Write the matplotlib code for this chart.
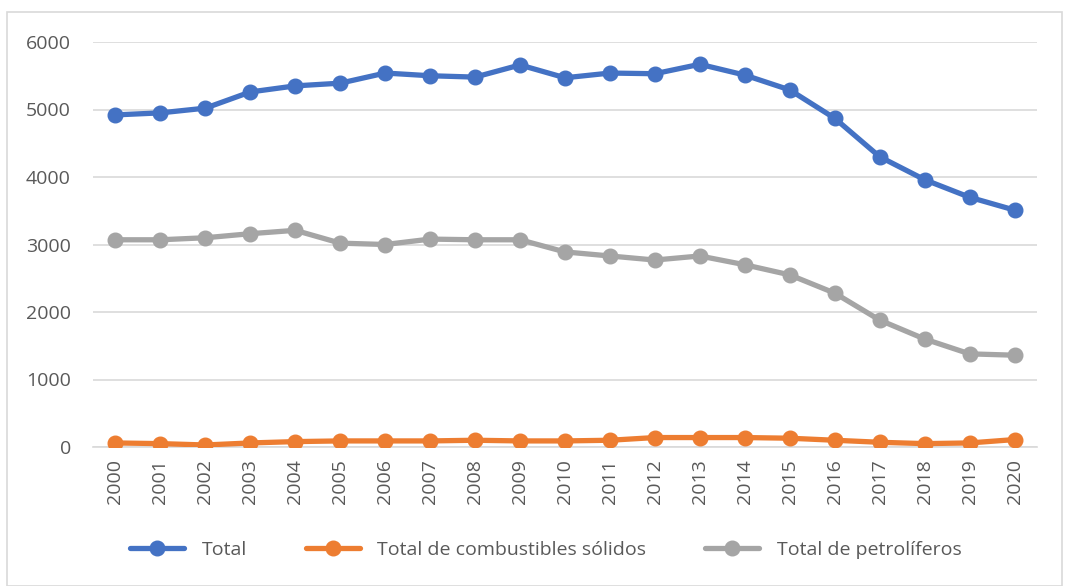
import matplotlib.pyplot as plt
from matplotlib.patches import Rectangle

# Consumo anual por tipo de combustible, 2000-2020
years = [str(y) for y in range(2000, 2021)]
total = [4920, 4950, 5020, 5260, 5350, 5390, 5540, 5500, 5480, 5660, 5470,
         5540, 5530, 5670, 5510, 5290, 4870, 4300, 3960, 3700, 3510]
solidos = [60, 50, 30, 60, 80, 90, 90, 90, 100, 90, 90,
           100, 140, 140, 140, 130, 100, 70, 50, 60, 110]
petroliferos = [3070, 3070, 3100, 3160, 3210, 3020, 3000, 3080, 3070, 3070, 2890,
                2830, 2770, 2830, 2700, 2550, 2280, 1880, 1600, 1380, 1360]

series = [
    ("Total", total, "#4472C4"),
    ("Total de combustibles sólidos", solidos, "#ED7D31"),
    ("Total de petrolíferos", petroliferos, "#A5A5A5"),
]

plt.rcParams['font.family'] = ['Open Sans', 'DejaVu Sans']
text_color = "#595959"
fs = 14

fig = plt.figure(figsize=(10.68, 5.86), dpi=100)
ax = fig.add_axes([93 / 1068, 1 - 447 / 586, (1037 - 93) / 1068, (447 - 42) / 586])

# chart area border
fig.patches.append(Rectangle((7 / 1068, 0), (1062 - 7) / 1068, 1 - 12 / 586,
                             transform=fig.transFigure, fill=False,
                             edgecolor="#D9D9D9", linewidth=1.2))

x = list(range(len(years)))
for label, values, color in series:
    ax.plot(x, values, color=color, linewidth=3.8, marker="o", markersize=10.5,
            label=label, solid_capstyle="round", zorder=3)

ax.set_xlim(-0.5, len(years) - 0.5)
ax.set_ylim(0, 6000)
ax.set_yticks(range(0, 6001, 1000))
ax.set_xticks(x)
ax.set_xticklabels(years, rotation=90)
ax.grid(axis="y", color="#D9D9D9", linewidth=1.2)
ax.set_axisbelow(True)
for side in ["top", "right", "left"]:
    ax.spines[side].set_visible(False)
ax.spines["bottom"].set_color("#D9D9D9")
ax.spines["bottom"].set_linewidth(1.2)
ax.tick_params(axis="both", length=0, labelsize=fs, colors=text_color)
ax.tick_params(axis="y", pad=16)
ax.tick_params(axis="x", pad=9)

leg = fig.legend(loc="center", bbox_to_anchor=(0.511, 1 - 550 / 586), ncol=3,
                 frameon=False, fontsize=fs, handlelength=2.8,
                 columnspacing=3.0, handletextpad=0.9)
for t in leg.get_texts():
    t.set_color(text_color)

fig.savefig("out.png", dpi=100)
